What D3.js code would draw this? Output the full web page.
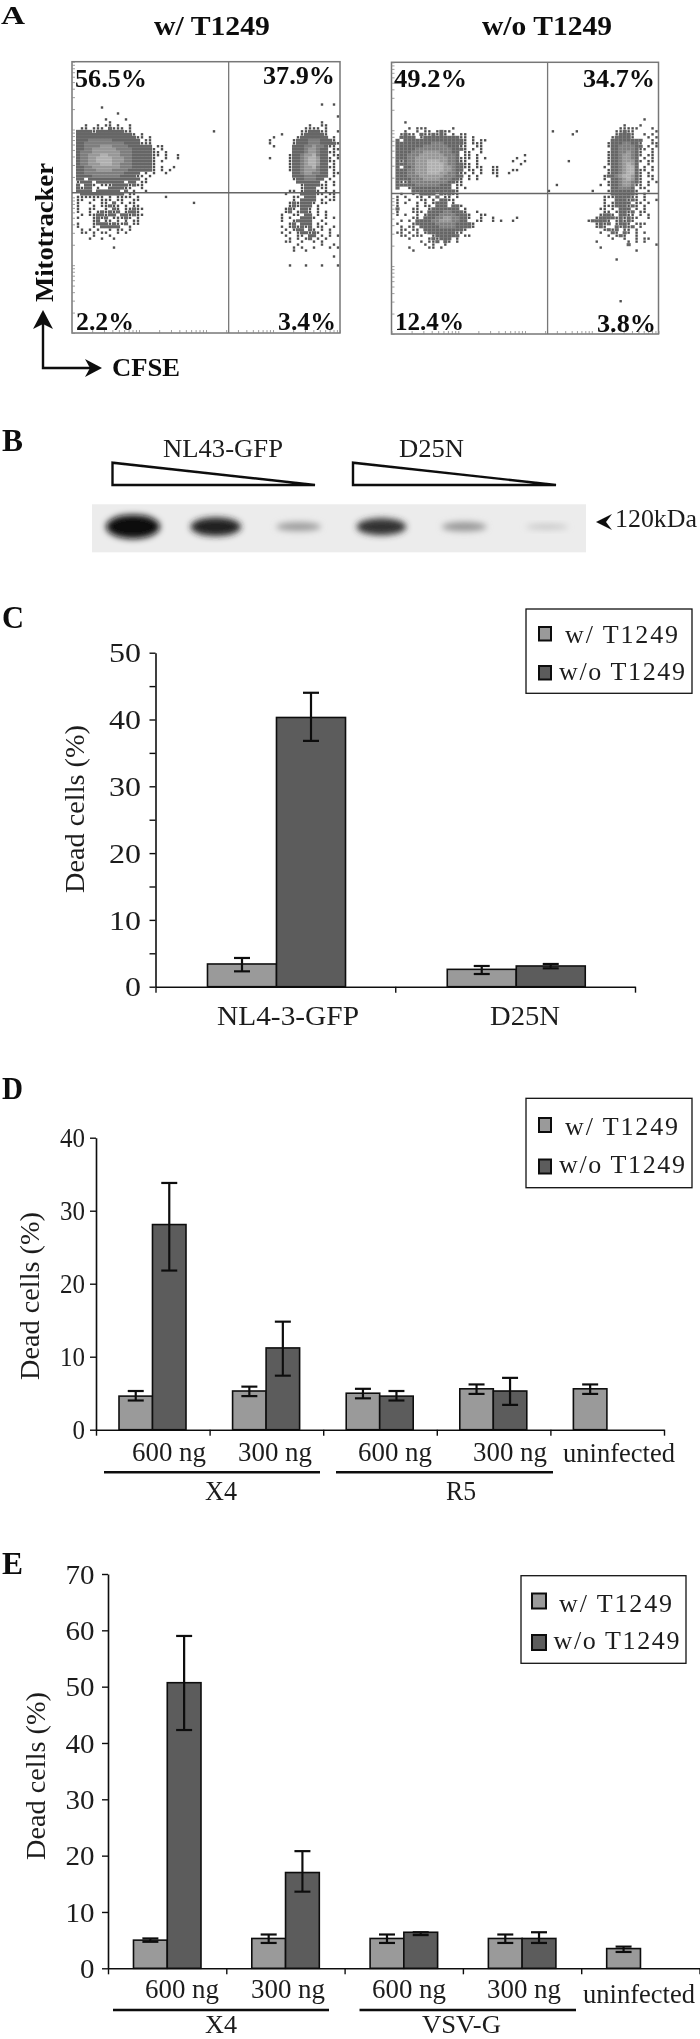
<!DOCTYPE html>
<html>
<head>
<meta charset="utf-8">
<title>T1249 figure</title>
<script src="https://d3js.org/d3.v7.min.js"></script>
<style>
  html, body { margin: 0; padding: 0; background: #fff; }
  svg { display: block; }
  text { font-family: "Liberation Serif", serif; fill: #1c1c1c; }
  .bold { font-weight: bold; fill: #111; }
</style>
</head>
<body>
<script>
// Panel A - dot plot density, one string per row.
// ' ' empty, '.' single event, 1-4 density.
const flowLeftRows = [
  "","","","       .","","           .","","        .    .","         .","   .  . .. .  .",
  "  .. ... 1... .",
  " 1111.1111111..",
  " 11111111111111. .",
  " 111111111111111.. .",
  " 1112222221111111 ..",
  " 1122222222221111...",
  " 1122223332222111111 ..",
  " 1122333333222211111. .",
  " 1222333333322211111.. .",
  " 1223334433322211111.. .  .",
  " 1223344443332211111.  .  .",
  " 1223344443332211111. .",
  " 1223334443322211111.",
  " 1122333333322211111. .  .",
  " 1122233332222111111. . .",
  " 1122222222221111 . .  .",
  " 111122222221111.. .",
  " 11 1111111111111 .",
  " .111 1111111 11 ..",
  " 1 11. ...1111.1..",
  " 1.11 .  1111..  .",
  " 1111 111111 1 .  .",
  "  11111111111 ..",
  " ....... . .... .      .",
  " ..  . ... ..  ..",
  " .  .  .. 1 . ..              .",
  " .   . ..1.. . ..",
  " .  ..  . 1. ..1..",
  " .  . .1.1.1 .11.",
  "  . ..11.11 11.1..",
  " .   .1.1 ...1. .",
  "     .1 .. . . ..",
  " .   .111.1..1 ..",
  " .   . 11111  .",
  "  . . .  . .. .",
  "  .. . ..  . .",
  "     .   .",
  "    .  .  .",
  "","",
  "          ."
];
const flowLeftRight = [
  "","","                 .  .","","","","                     .","","                 .","              .  ..",
  "             .... .",
  "            ..111..  .",
  "       .    .11111.",
  "     .     .1111111 .",
  "    .     .111222111.",
  "    .     .1112221111..",
  "     .    111223221.. .",
  "          111233211 ..",
  "          111233211..",
  "         .112334211 ..",
  "    .    .112344311. .",
  "         .112344311..",
  "         .112344311 .",
  "         .112334211..",
  "         .112333211 . .",
  "          112332211 ..",
  "          111222111 .",
  "          .1122211 .  .",
  "           111111 . .",
  "            .1111.. .",
  "            .111 ..",
  "         .. .111. . .",
  "        .   1111.. ..",
  "          .. 111  . .",
  "          . 1111 . ..",
  "         .1.111. ..",
  "         .1.111 .",
  "        .1. 11. .",
  "        .1 .11. . .",
  "       .  .. 11 . .",
  "       . .  111.  . .",
  "       .  .1111  .",
  "         .1 111 . .",
  "       . .1.1.1 ..  .",
  "        . .11 1. . .",
  "       . . .11.1.  .",
  "        .  .. 11 . . .",
  "         . . .1 . .",
  "        ..  .  . .",
  "           .     .  .",
  "          . .  .   . .",
  "          .  .",
  "","                    .","","",
  "         .   .   .   ."
];
const flowRightLeft = [
  "","","","","","","","","   .","",
  "    . ...      .",
  "   .  . .. .1..",
  "  .1.. 1..1.1. . ..",
  "  1111 .111111111.. .",
  " 1 111111111111111. . ..",
  " 11111111122211111. ...",
  " 1111111222222111..  ..",
  " 11111222222222111. . .",
  " 1111222333322211 ..  .",
  " 1112223333332221 .. .",
  " 1112233333333221... . .       .",
  " 1.12233344433221..  .        .  .",
  " 11122333444432211.. .          .",
  " 1 112333444433211.. ..   .",
  " 11122333444433211 .. .  ..   .",
  " 1112233344433221.. . .  ..  .",
  " 11122233333322211 . .",
  " 1111222333322211. . .",
  " 1..122222222211..",
  " 11111222222111 ..",
  " 1  .1111111111 . .",
  "     11111111111.",
  "  .  . 1111 1.1..",
  " . .  .. . 1 .. .",
  " .  .  .. . 11..",
  " . .  . . .111 .",
  " .    . .. 111 11.",
  " 1   ..  .1111111 .",
  " .   ... 111122111.  .",
  " . .  . .1112222111.  ..",
  "     .. 11122332211.  .  .     .",
  "  . . 1111223332211  ..  . .  .",
  " .   .11111222221111.",
  "  . .. 1111122221111.",
  "  .. .. 1111111111.",
  " .. . . .1111111..",
  "  .. ...  .111111 ..",
  "    .    .1.111 .",
  "       . ..1 1. .",
  "        . .  .",
  "    .    .. .",
  "     ."
];
const flowRightRight = [
  "","","","                      .","","","","                  .    .","","             .   .",
  "            .....   .",
  " .         ..1..     .",
  "           .111.  . .",
  "          .1111.   . .",
  "          11111111  .  .",
  "         .1112211.  .. .",
  "         .11222211 . .",
  "          1122221.. .  .",
  "         .1122321.  . .",
  "         .1123321. ..",
  "         .1123321 . .",
  "         .1123331. ..",
  "         .1123431  .  .",
  "        . 1123441 . .",
  "         .1123441.. .",
  "         .1123441. .",
  "        .11234431. ..",
  "        . 1123431.  .",
  "         .1123321. . .",
  "       . .112332.. .  .",
  "          112221 ..",
  "     .   .111111.  .",
  "          111111. .",
  "        ...1111.. .",
  "        .  111.1. .  .",
  "        . .1111 .. .",
  "        ...111.1. .",
  "       .. . 111 . .",
  "        .. .11.1 ..",
  "       .11. 11.. . .",
  "      .1111.1.1..  .",
  "    .1111. .1.1.",
  "      .1.1 .11. ...",
  "      .1.  1.1.1 .",
  "        .1.1 .. .",
  "       .  1. 1. . .",
  "         . .1.  .",
  "          .  .  . ..",
  "      .       . . .",
  "              1      .",
  "       .",
  "                .","","","           .","","","","","","","","","","","","","","            ."
];
// stray events between the populations, [col, row]
const flowLeftStrays = [[35, 11]];
const flowRightStrays = [[40, 11], [45, 12], [44, 21], [41, 29], [39, 31], [33, 19], [31, 24], [25, 23], [26, 26]];
const flowTitles = ["w/ T1249", "w/o T1249"];
const flowLeftPct = ["56.5%", "37.9%", "2.2%", "3.4%"];
const flowRightPct = ["49.2%", "34.7%", "12.4%", "3.8%"];
const flowGate = [218, 117];

// Panel B
const blotLanes = ["a", "b", "c", "d", "e", "f"];
const blotIntensity = [1, 0.78, 0.4, 0.72, 0.42, 0.25];
const blotGroups = ["NL43-GFP", "D25N"];

// Panel C
const cCategories = ["NL4-3-GFP", "D25N"];
const cWith = [3.4, 2.6];
const cWithout = [40.3, 3.1];
const cWithLow = [2.3, 1.9];
const cWithHigh = [4.3, 3.1];
const cWithoutLow = [36.8, 2.75];
const cWithoutHigh = [44, 3.4];

// Panel D
const dCategories = ["600 ng", "300 ng", "600 ng ", "300 ng ", "uninfected"];
const dWith = [4.6, 5.3, 5.0, 5.6, 5.6];
const dWithout = [28.1, 11.2, 4.6, 5.3, null];
const dWithLow = [4.0, 4.6, 4.3, 4.9, 4.9];
const dWithHigh = [5.3, 5.9, 5.6, 6.2, 6.2];
const dWithoutLow = [21.8, 7.4, 4.0, 3.4, null];
const dWithoutHigh = [33.8, 14.8, 5.3, 7.1, null];

// Panel E
const eCategories = ["600 ng", "300 ng", "600 ng ", "300 ng ", "uninfected"];
const eWith = [5.0, 5.3, 5.3, 5.3, 3.5];
const eWithout = [50.7, 17.0, 6.4, 5.3, null];
const eWithLow = [4.7, 4.5, 4.5, 4.5, 2.9];
const eWithHigh = [5.3, 6.0, 6.0, 6.0, 3.85];
const eWithoutLow = [42.3, 13.6, 5.9, 4.5, null];
const eWithoutHigh = [59, 20.8, 6.4, 6.4, null];

const seriesNames = ["w/ T1249", "w/o T1249"];
const seriesColor = d3.scaleOrdinal(seriesNames, ["#9a9a9a", "#5c5c5c"]);

const svg = d3.select("body").append("svg")
  .attr("width", 700).attr("height", 2039);

const defs = svg.append("defs");
defs.append("filter").attr("id", "soft").attr("filterUnits", "userSpaceOnUse")
  .attr("x", 0).attr("y", 0).attr("width", 700).attr("height", 2039)
  .append("feGaussianBlur").attr("stdDeviation", 0.45);
defs.append("filter").attr("id", "blot").attr("x", "-40%").attr("y", "-80%")
  .attr("width", "180%").attr("height", "260%")
  .append("feGaussianBlur").attr("stdDeviation", 3);

const root = svg.append("g").attr("filter", "url(#soft)");

// text with the measured width
function label(g, x, y, str, size, width, bold, rotate, adjust) {
  const t = g.append("text")
    .attr("x", rotate ? 0 : x).attr("y", rotate ? 0 : y)
    .attr("font-size", size)
    .attr("textLength", width)
    .attr("lengthAdjust", adjust || "spacingAndGlyphs")
    .classed("bold", !!bold)
    .text(str);
  if (rotate) t.attr("transform", `translate(${x},${y}) rotate(-90)`);
  return t;
}

// Panel A
function flowPlot(x0, y0, x1, y1, leftRows, rightRows, strays, pct, pctPos) {
  const g = root.append("g");
  const x = d3.scaleLog([1, 10000], [x0, x1]);
  const y = d3.scaleLog([1, 10000], [y1, y0]);
  const col = d3.scaleLinear([0, 67], [x0, x1]);
  const row = d3.scaleLinear([0, 1], [97.07, 100.05]);
  const shade = d3.scaleOrdinal(["1", "2", "3", "4"], ["#666666", "#7e7e7e", "#989898", "#b0b0b0"]);

  let cells = [];
  const collect = (rows, start) => rows.forEach((s, r) => {
    Array.from(s).forEach((ch, c) => { if (ch !== " ") cells.push({ c: c + start, r, ch }); });
  });
  collect(leftRows, 0);
  collect(rightRows, 45);
  strays.forEach(([c, r]) => cells.push({ c, r, ch: "." }));
  cells = cells.filter(d => d.c < 67);

  g.selectAll("rect.cell").data(cells.filter(d => d.ch !== ".")).enter().append("rect")
    .attr("class", "cell")
    .attr("x", d => col(d.c)).attr("y", d => row(d.r))
    .attr("width", 4.1).attr("height", 3.1)
    .attr("fill", d => shade(d.ch));
  g.selectAll("rect.dot").data(cells.filter(d => d.ch === ".")).enter().append("rect")
    .attr("class", "dot")
    .attr("x", d => col(d.c) + 0.8).attr("y", d => row(d.r) + 0.3)
    .attr("width", 2.4).attr("height", 2.4)
    .attr("fill", "#505050");

  g.append("rect").attr("x", x0).attr("y", y0).attr("width", x1 - x0).attr("height", y1 - y0)
    .attr("fill", "none").attr("stroke", "#777").attr("stroke-width", 1.5);
  g.append("line").attr("x1", x(flowGate[0])).attr("x2", x(flowGate[0])).attr("y1", y0).attr("y2", y1)
    .attr("stroke", "#777").attr("stroke-width", 1.3);
  g.append("line").attr("x1", x0).attr("x2", x1).attr("y1", y(flowGate[1])).attr("y2", y(flowGate[1]))
    .attr("stroke", "#666").attr("stroke-width", 1.3);

  const ya = d3.axisRight(y).tickSize(3).tickFormat("");
  const xa = d3.axisTop(x).tickSize(3).tickFormat("");
  [g.append("g").attr("transform", `translate(${x0},0)`).call(ya),
   g.append("g").attr("transform", `translate(0,${y1})`).call(xa)].forEach(a => {
    a.select(".domain").remove();
    a.selectAll("line").attr("stroke", "#888").attr("stroke-width", 0.8);
  });

  pct.forEach((p, i) => label(g, pctPos[i][0], pctPos[i][1], p, 26, pctPos[i][2], true));
}

flowPlot(72, 61.7, 340, 333, flowLeftRows, flowLeftRight, flowLeftStrays, flowLeftPct,
  [[75, 87, 72], [263, 84, 72], [76, 330, 58], [278, 330, 58]]);
flowPlot(391.5, 62.3, 658.5, 334, flowRightLeft, flowRightRight, flowRightStrays, flowRightPct,
  [[394, 87, 73], [583, 86.5, 72], [395, 330, 69], [597, 332, 59]]);

label(root, 1, 24, "A", 26, 24, true);
label(root, 154, 35, flowTitles[0], 28, 116, true);
label(root, 482, 35, flowTitles[1], 28, 130, true);
label(root, 52.5, 302, "Mitotracker", 26, 139, true, true);
label(root, 112, 376, "CFSE", 26, 68, true);

// CFSE / Mitotracker arrows
root.append("path").attr("d", "M43,322V368H92").attr("fill", "none").attr("stroke", "#111").attr("stroke-width", 2.4);
root.append("path").attr("d", "M43,310L53,329L43,324L33,329Z").attr("fill", "#111");
root.append("path").attr("d", "M102,368L85,359L90,368L85,377Z").attr("fill", "#111");

// Panel B
label(root, 2, 450.7, "B", 31, 21, true);
label(root, 163, 457.3, blotGroups[0], 26, 120);
label(root, 399, 457.3, blotGroups[1], 26, 65);
[[112.5, 315], [353, 556]].forEach(([a, b]) => {
  root.append("path").attr("d", `M${a},462.7V485H${b}Z`)
    .attr("fill", "none").attr("stroke", "#111").attr("stroke-width", 2.4).attr("stroke-linejoin", "miter");
});
root.append("rect").attr("x", 92).attr("y", 504.3).attr("width", 494).attr("height", 48).attr("fill", "#ececec");
const lane = d3.scalePoint(blotLanes, [133, 547]);
const bandGrey = d3.scaleLinear([0.25, 0.45, 0.75, 1], ["#c2c2c2", "#8f8f8f", "#262626", "#0c0c0c"]);
const bandW = d3.scaleLinear([0.25, 1], [21, 27]);
const bandH = d3.scaleLinear([0.25, 1], [2.5, 12]);
root.append("g").selectAll("ellipse").data(blotLanes).enter().append("ellipse")
  .attr("filter", "url(#blot)")
  .attr("cx", d => lane(d)).attr("cy", 526.7)
  .attr("rx", (d, i) => bandW(blotIntensity[i]))
  .attr("ry", (d, i) => bandH(blotIntensity[i]))
  .attr("fill", (d, i) => bandGrey(blotIntensity[i]));
root.append("path").attr("d", "M596,522L612,514L606,522L612,530Z").attr("fill", "#111");
label(root, 615, 527, "120kDa", 26, 82);

// Panels C, D, E
function barPanel(o) {
  const g = root.append("g");
  const y = d3.scaleLinear([0, o.yMax], [o.bottom, o.top]);
  const x0 = d3.scaleBand(o.categories, [o.left, o.right]);
  const x1 = d3.scaleBand(seriesNames, o.barSpan);
  const edges = d3.scalePoint(d3.range(o.categories.length + 1), [o.left, o.right]);

  const rows = o.categories.map((c, i) => [
    { c, s: seriesNames[0], v: o.withV[i], lo: o.withLow[i], hi: o.withHigh[i] },
    { c, s: seriesNames[1], v: o.withoutV[i], lo: o.withoutLow[i], hi: o.withoutHigh[i] }
  ]).flat().filter(d => d.v !== null);

  g.selectAll("rect").data(rows).enter().append("rect")
    .attr("x", d => x0(d.c) + x1(d.s))
    .attr("y", d => y(d.v))
    .attr("width", x1.bandwidth())
    .attr("height", d => y(0) - y(d.v))
    .attr("fill", d => seriesColor(d.s))
    .attr("stroke", "#111").attr("stroke-width", 1.6);

  const mid = d => x0(d.c) + x1(d.s) + x1.bandwidth() / 2;
  const err = g.selectAll("g.err").data(rows).enter().append("g").attr("class", "err")
    .attr("stroke", "#111").attr("stroke-width", 2.2);
  err.append("line").attr("x1", mid).attr("x2", mid).attr("y1", d => y(d.lo)).attr("y2", d => y(d.hi));
  err.append("line").attr("x1", d => mid(d) - 8).attr("x2", d => mid(d) + 8).attr("y1", d => y(d.lo)).attr("y2", d => y(d.lo));
  err.append("line").attr("x1", d => mid(d) - 8).attr("x2", d => mid(d) + 8).attr("y1", d => y(d.hi)).attr("y2", d => y(d.hi));

  const ya = g.append("g").attr("transform", `translate(${o.left},0)`)
    .call(d3.axisLeft(y).tickValues(d3.range(0, o.yMax + 1, o.tickStep)).tickSize(6).tickSizeOuter(0)
      .tickFormat(d => d % 10 === 0 ? d : ""));
  ya.selectAll("text")
    .attr("x", o.labelX - o.left).attr("dy", "0.34em").attr("font-size", 27)
    .attr("text-anchor", "end").attr("font-family", null)
    .attr("textLength", d => d === 0 ? o.digitW / 2 : o.digitW)
    .attr("lengthAdjust", "spacingAndGlyphs");

  g.append("g").attr("transform", `translate(0,${o.bottom})`)
    .call(d3.axisBottom(edges).tickSize(6).tickSizeOuter(0).tickFormat(""));
  g.selectAll(".domain").attr("stroke", "#111").attr("stroke-width", 1.6);
  g.selectAll(".tick line").attr("stroke", "#111").attr("stroke-width", 1.4);

  label(g, o.yLabelX, o.yLabelY, "Dead cells (%)", 28, 168, false, true);

  o.xLabels.forEach(l => label(g, l[0], l[1], l[2], l[3], l[4]));
  (o.rules || []).forEach(r => g.append("line").attr("x1", r[0]).attr("x2", r[1]).attr("y1", r[2]).attr("y2", r[2])
    .attr("stroke", "#111").attr("stroke-width", 2.4));

  // legend
  const L = o.legend;
  g.append("rect").attr("x", L.x).attr("y", L.y).attr("width", L.w).attr("height", L.h)
    .attr("fill", "#fff").attr("stroke", "#111").attr("stroke-width", 1.3);
  seriesNames.forEach((s, i) => {
    g.append("rect").attr("x", L.sx).attr("y", L.sy[i]).attr("width", L.sw).attr("height", L.sh)
      .attr("fill", seriesColor(s)).attr("stroke", "#111").attr("stroke-width", 2);
    label(g, L.tx[i], L.ty[i], s, 26, L.tw[i], false, false, "spacing");
  });
}

label(root, 2, 627.5, "C", 31, 22, true);
barPanel({
  categories: cCategories, withV: cWith, withoutV: cWithout,
  withLow: cWithLow, withHigh: cWithHigh, withoutLow: cWithoutLow, withoutHigh: cWithoutHigh,
  yMax: 50, tickStep: 5, left: 155.5, right: 635, top: 652.7, bottom: 986.7,
  barSpan: [52, 190], labelX: 141, digitW: 32, yLabelX: 83.5, yLabelY: 893,
  xLabels: [[217, 1025, "NL4-3-GFP", 28, 142], [490, 1025, "D25N", 28, 70]],
  legend: { x: 526, y: 609, w: 166, h: 84.3, sx: 539, sy: [627, 666], sw: 12, sh: 13.5, tx: [565, 559], ty: [643, 680], tw: [113, 126] }
});

label(root, 2, 1099.3, "D", 31, 21, true);
barPanel({
  categories: dCategories, withV: dWith, withoutV: dWithout,
  withLow: dWithLow, withHigh: dWithHigh, withoutLow: dWithoutLow, withoutHigh: dWithoutHigh,
  yMax: 40, tickStep: 10, left: 96, right: 664, top: 1137.7, bottom: 1429.7,
  barSpan: [23, 90], labelX: 85, digitW: 25, yLabelX: 39, yLabelY: 1380,
  xLabels: [[132, 1460.7, "600 ng", 27, 74], [238, 1460.7, "300 ng", 27, 74], [358, 1460.7, "600 ng", 27, 74], [473, 1460.7, "300 ng", 27, 74],
    [563, 1461.7, "uninfected", 27, 112], [205, 1500, "X4", 27, 32], [446, 1500, "R5", 27, 30]],
  rules: [[104, 320, 1472.3], [336, 553, 1472.3]],
  legend: { x: 526, y: 1098.3, w: 166, h: 89.4, sx: 539, sy: [1118, 1159.5], sw: 12, sh: 14, tx: [565, 559], ty: [1135, 1173.3], tw: [113, 126] }
});

label(root, 2, 1574.3, "E", 31, 21, true);
barPanel({
  categories: eCategories, withV: eWith, withoutV: eWithout,
  withLow: eWithLow, withHigh: eWithHigh, withoutLow: eWithoutLow, withoutHigh: eWithoutHigh,
  yMax: 70, tickStep: 10, left: 108, right: 699.5, top: 1574, bottom: 1968.3,
  barSpan: [25.5, 93], labelX: 94.6, digitW: 29, yLabelX: 44.6, yLabelY: 1860,
  xLabels: [[145, 1998.3, "600 ng", 27, 74], [251, 1998.3, "300 ng", 27, 74], [372, 1998.3, "600 ng", 27, 74], [487, 1998.3, "300 ng", 27, 74],
    [583, 2002.7, "uninfected", 27, 112], [205, 2033, "X4", 26, 32], [422, 2033, "VSV-G", 26, 79]],
  rules: [[113, 329, 2010], [359.5, 576, 2010]],
  legend: { x: 521, y: 1575.7, w: 165, h: 87.6, sx: 532, sy: [1593.5, 1635], sw: 14, sh: 15, tx: [559, 553.5], ty: [1611.7, 1649.3], tw: [113, 126] }
});
</script>
</body>
</html>
